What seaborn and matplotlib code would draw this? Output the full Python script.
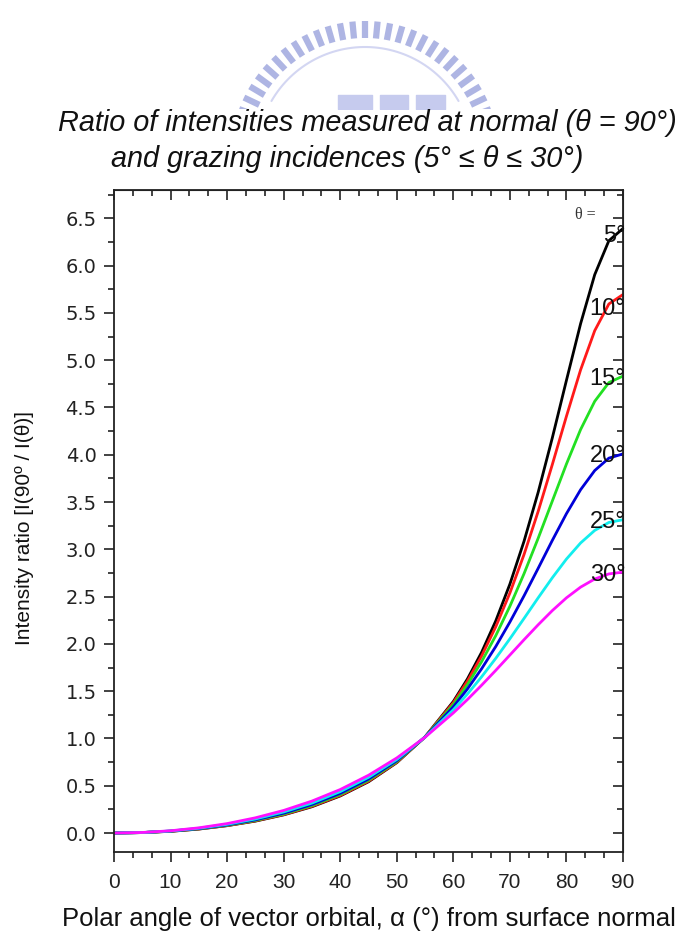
import numpy as np
import pandas as pd
import seaborn as sns
import matplotlib
matplotlib.use("Agg")
import matplotlib.pyplot as plt
from matplotlib.ticker import MultipleLocator, AutoMinorLocator, FormatStrFormatter

# polar angle of the vector orbital (deg)
alpha = [0, 5, 10, 15, 20, 25, 30, 35, 40, 45, 50, 55, 60,
         62.5, 65, 67.5, 70, 72.5, 75, 77.5, 80, 82.5, 85, 87.5, 90]

# intensity ratio I(90)/I(theta)
ratio_5 = [0.0, 0.005, 0.018, 0.042, 0.078, 0.126, 0.192, 0.278, 0.392, 0.542, 0.744, 1.017, 1.391,
           1.630, 1.911, 2.243, 2.632, 3.085, 3.603, 4.178, 4.787, 5.385, 5.904, 6.263, 6.392]
ratio_10 = [0.0, 0.005, 0.019, 0.043, 0.079, 0.129, 0.195, 0.283, 0.397, 0.548, 0.748, 1.016, 1.379,
            1.607, 1.872, 2.181, 2.538, 2.945, 3.401, 3.896, 4.407, 4.897, 5.312, 5.594, 5.694]
ratio_15 = [0.0, 0.005, 0.020, 0.045, 0.082, 0.133, 0.201, 0.291, 0.407, 0.558, 0.755, 1.016, 1.359,
            1.570, 1.812, 2.087, 2.398, 2.742, 3.117, 3.510, 3.902, 4.266, 4.565, 4.763, 4.832]
ratio_20 = [0.0, 0.005, 0.021, 0.047, 0.086, 0.140, 0.210, 0.302, 0.420, 0.571, 0.765, 1.015, 1.334,
            1.524, 1.737, 1.972, 2.231, 2.508, 2.799, 3.094, 3.377, 3.630, 3.833, 3.964, 4.009]
ratio_25 = [0.0, 0.005, 0.022, 0.051, 0.092, 0.149, 0.223, 0.317, 0.438, 0.589, 0.778, 1.014, 1.303,
            1.470, 1.652, 1.847, 2.054, 2.269, 2.487, 2.699, 2.897, 3.067, 3.200, 3.284, 3.313]
ratio_30 = [0.0, 0.006, 0.024, 0.055, 0.100, 0.161, 0.239, 0.338, 0.460, 0.611, 0.794, 1.013, 1.270,
            1.412, 1.563, 1.720, 1.882, 2.044, 2.202, 2.352, 2.487, 2.600, 2.686, 2.740, 2.759]

thetas = ["5", "10", "15", "20", "25", "30"]
label_y = [6.34, 5.57, 4.83, 4.01, 3.32, 2.76]
colors = ["#000000", "#ff1a1a", "#22e022", "#0000d8", "#12eeee", "#ff10ff"]

series = [ratio_5, ratio_10, ratio_15, ratio_20, ratio_25, ratio_30]
df = pd.concat([pd.DataFrame({"alpha": alpha, "ratio": r, "theta": t})
                for t, r in zip(thetas, series)], ignore_index=True)

sns.set_style("ticks")
plt.rcParams["font.family"] = ["Liberation Sans", "DejaVu Sans"]

fig = plt.figure(figsize=(6.9, 9.31), dpi=100)
ax = fig.add_axes([0.1652, 0.0849, 0.7377, 0.7111])

sns.lineplot(data=df, x="alpha", y="ratio", hue="theta", hue_order=thetas,
             palette=colors, estimator=None, sort=False, linewidth=2.0,
             legend=False, ax=ax)

ax.set_xlim(0, 90)
ax.set_ylim(-0.2, 6.8)
ax.xaxis.set_major_locator(MultipleLocator(10))
ax.xaxis.set_minor_locator(AutoMinorLocator(3))
ax.yaxis.set_major_locator(MultipleLocator(0.5))
ax.yaxis.set_minor_locator(AutoMinorLocator(2))
ax.yaxis.set_major_formatter(FormatStrFormatter("%.1f"))

for s in ax.spines.values():
    s.set_linewidth(1.3)
    s.set_color("#222222")
ax.tick_params(which="major", direction="out", length=7.5, width=1.2, color="#222222")
ax.tick_params(which="minor", direction="out", length=4, width=1.2, color="#222222")
ax.tick_params(axis="x", labelsize=15, pad=8, labelcolor="#222222")
ax.tick_params(axis="y", labelsize=14, pad=5, labelcolor="#222222",
               labelfontfamily="DejaVu Sans")

# mirrored ticks pointing inward on top and right
top = ax.secondary_xaxis("top")
top.xaxis.set_major_locator(MultipleLocator(10))
top.xaxis.set_minor_locator(AutoMinorLocator(3))
top.tick_params(which="major", direction="in", length=7.5, width=1.2, labeltop=False, color="#222222")
top.tick_params(which="minor", direction="in", length=4, width=1.2, labeltop=False, color="#222222")
right = ax.secondary_yaxis("right")
right.yaxis.set_major_locator(MultipleLocator(0.5))
right.yaxis.set_minor_locator(AutoMinorLocator(2))
right.tick_params(which="major", direction="in", length=7.5, width=1.2, labelright=False, color="#222222")
right.tick_params(which="minor", direction="in", length=4, width=1.2, labelright=False, color="#222222")

ax.set_xlabel("Polar angle of vector orbital, α (°) from surface normal", fontsize=18.5, color="#111111")
ax.xaxis.set_label_coords(0.5, -0.083)
ax.set_ylabel("Intensity ratio [I(90º / I(θ)]", fontsize=15, color="#111111",
              family=["Liberation Sans Narrow", "Liberation Sans", "DejaVu Sans"])
ax.yaxis.set_label_coords(-0.158, 0.49)

# curve labels
for t, y in zip(thetas, label_y):
    ax.text(90.4, y - 0.09, t + "°", ha="right", va="baseline", fontsize=17, color="#111111")
ax.text(85.2, 6.54, "θ =", ha="right", va="center", fontsize=11.5,
        family=["Liberation Serif", "DejaVu Serif"], color="#333333")

fig.text(367 / 690, 1 - 123 / 931, "Ratio of intensities measured at normal (θ = 90°)",
         ha="center", va="center", fontsize=20.8, style="italic", color="#111111")
fig.text(347 / 690, 1 - 159 / 931, "and grazing incidences (5° ≤ θ ≤ 30°)",
         ha="center", va="center", fontsize=20.8, style="italic", color="#111111")

# faint logo watermark at the top, cut off at its lower edge
wm = fig.add_axes([0, 1 - 109 / 931, 1, 109 / 931], zorder=-1)
wm.set_xlim(0, 690)
wm.set_ylim(109, 0)
wm.axis("off")
cx, cy = 365, 155
for a in np.radians(np.linspace(160, 20, 27)):
    wm.plot([cx + 117 * np.cos(a), cx + 134 * np.cos(a)],
            [cy - 117 * np.sin(a), cy - 134 * np.sin(a)],
            color="#aeb5e3", lw=4.5, solid_capstyle="butt")
arc = np.radians(np.linspace(150, 30, 60))
wm.plot(cx + 108 * np.cos(arc), cy - 108 * np.sin(arc), color="#d3d6f2", lw=1.5)
for x0, x1 in [(338, 372), (380, 408), (416, 445)]:
    wm.fill_between([x0, x1], 95, 109, color="#c6cbee")

fig.savefig("out.png", dpi=100)
